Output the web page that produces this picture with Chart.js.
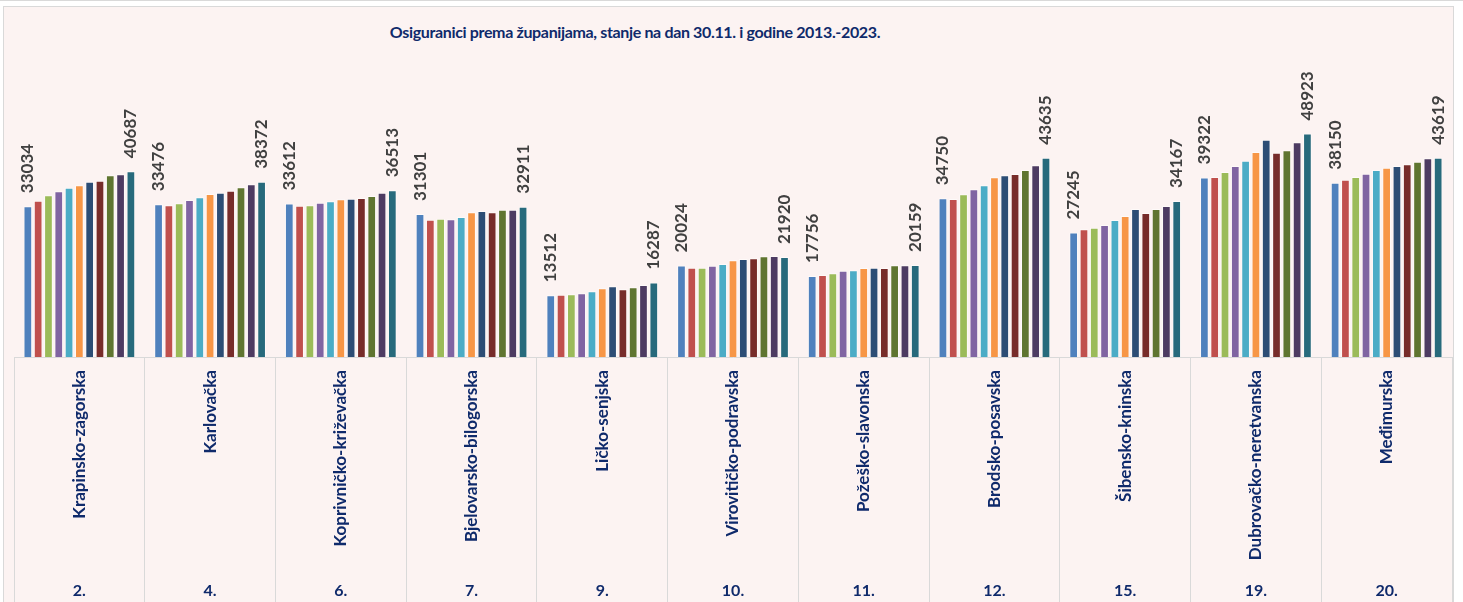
<!DOCTYPE html>
<html lang="hr">
<head>
<meta charset="utf-8">
<title>Osiguranici prema županijama</title>
<script src="https://cdn.jsdelivr.net/npm/chart.js@4.4.1/dist/chart.umd.min.js"></script>
<style>
  html, body { margin: 0; padding: 0; background: #fff; }
  body { width: 1463px; height: 602px; position: relative; overflow: hidden; font-family: Lato, sans-serif; }
  .topline { position: absolute; left: 0; top: 0; width: 1463px; height: 1px; background: #d9d9d9; }
  .frame { position: absolute; left: 3px; top: 6px; width: 1449px; height: 600px;
           border: 1px solid #d9d9d9; border-bottom: none; background: #fcf3f2; }
  .title { position: absolute; left: 0; top: 22px; width: 1270px; text-align: center;
           font: bold 16px Lato, sans-serif; letter-spacing: -0.35px; color: #0f2a6b; white-space: nowrap; }
  #chart { position: absolute; left: 0; top: 0; }
</style>
</head>
<body>
<div class="topline"></div>
<div class="frame"></div>
<div class="title">Osiguranici prema županijama, stanje na dan 30.11. i godine 2013.-2023.</div>
<canvas id="chart" width="1463" height="602"></canvas>
<script>
const navy = "#0f2a6b";

const counties = [
  "Krapinsko-zagorska", "Karlovačka", "Koprivničko-križevačka", "Bjelovarsko-bilogorska",
  "Ličko-senjska", "Virovitičko-podravska", "Požeško-slavonska", "Brodsko-posavska",
  "Šibensko-kninska", "Dubrovačko-neretvanska", "Međimurska"
];
const codes = ["2.", "4.", "6.", "7.", "9.", "10.", "11.", "12.", "15.", "19.", "20."];

const years = ["2013", "2014", "2015", "2016", "2017", "2018", "2019", "2020", "2021", "2022", "2023"];

// insured persons per county, one array per year
const v2013 = [33034, 33476, 33612, 31301, 13512, 20024, 17756, 34750, 27245, 39322, 38150];
const v2014 = [34240, 33220, 33140, 30080, 13650, 19560, 17960, 34600, 27960, 39420, 38840];
const v2015 = [35410, 33650, 33220, 30300, 13720, 19560, 18330, 35630, 28320, 40520, 39420];
const v2016 = [36280, 34390, 33800, 30150, 13940, 20000, 18910, 36720, 28910, 41830, 40150];
const v2017 = [37080, 34970, 34090, 30660, 14380, 20370, 18980, 37600, 30000, 43000, 40950];
const v2018 = [37600, 35700, 34530, 31680, 15040, 21170, 19490, 39350, 30880, 44900, 41460];
const v2019 = [38400, 35990, 34680, 31970, 15480, 21460, 19560, 39790, 32410, 47600, 41830];
const v2020 = [38620, 36430, 34820, 31680, 14820, 21610, 19490, 40080, 31540, 44750, 42190];
const v2021 = [39790, 37160, 35260, 32270, 15260, 22050, 20070, 40950, 32410, 45260, 42780];
const v2022 = [40010, 37810, 35990, 32270, 15770, 22120, 20070, 41980, 33070, 47010, 43510];
const v2023 = [40687, 38372, 36513, 32911, 16287, 21920, 20159, 43635, 34167, 48923, 43619];

const series = [v2013, v2014, v2015, v2016, v2017, v2018, v2019, v2020, v2021, v2022, v2023];

const colors = [
  "#4f81bd", "#c0504d", "#9bbb59", "#8064a2", "#4bacc6", "#f79646",
  "#2c4d75", "#772c2a", "#5f7530", "#4d3b62", "#276a7c"
];

const datasets = series.map((data, i) => ({
  label: years[i],
  data,
  backgroundColor: colors[i],
  borderColor: "rgba(255,255,255,0.55)",
  borderWidth: 1,
  categoryPercentage: 0.867,
  barPercentage: 0.845
}));

// value labels above the first and the last year of every county
const endLabels = {
  id: "endLabels",
  afterDatasetsDraw(chart) {
    const ctx = chart.ctx;
    ctx.save();
    ctx.font = "bold 17px Lato, sans-serif";
    ctx.fillStyle = "#404040";
    ctx.textAlign = "left";
    ctx.textBaseline = "middle";
    [0, years.length - 1].forEach(i => {
      chart.getDatasetMeta(i).data.forEach((bar, j) => {
        ctx.save();
        ctx.translate(bar.x, bar.y - 13);
        ctx.rotate(-Math.PI / 2);
        ctx.fillText(String(series[i][j]), 0, 0);
        ctx.restore();
      });
    });
    ctx.restore();
  }
};

new Chart(document.getElementById("chart"), {
  type: "bar",
  data: { labels: counties, datasets },
  options: {
    responsive: false,
    animation: false,
    layout: { padding: { top: 83, left: 14, right: 11, bottom: 0 } },
    plugins: {
      legend: { display: false },
      tooltip: { enabled: false }
    },
    scales: {
      x: {
        grid: { drawOnChartArea: false, offset: true, tickLength: 245, color: "#d9d9d9" },
        border: { color: "#d9d9d9" },
        ticks: {
          minRotation: 90,
          maxRotation: 90,
          autoSkip: false,
          padding: -232,
          color: navy,
          font: { family: "Lato", size: 17, weight: "bold" }
        },
        afterFit: s => { s.height = 220; }
      },
      x2: {
        type: "category",
        labels: codes,
        position: "bottom",
        offset: true,
        grid: { display: false, drawTicks: false },
        border: { display: false },
        ticks: {
          padding: 4,
          color: navy,
          font: { family: "Lato", size: 16, weight: "bold" }
        },
        afterFit: s => { s.height = 25; }
      },
      y: { display: false, min: 0, max: 60000 }
    }
  },
  plugins: [endLabels]
});
</script>
</body>
</html>
